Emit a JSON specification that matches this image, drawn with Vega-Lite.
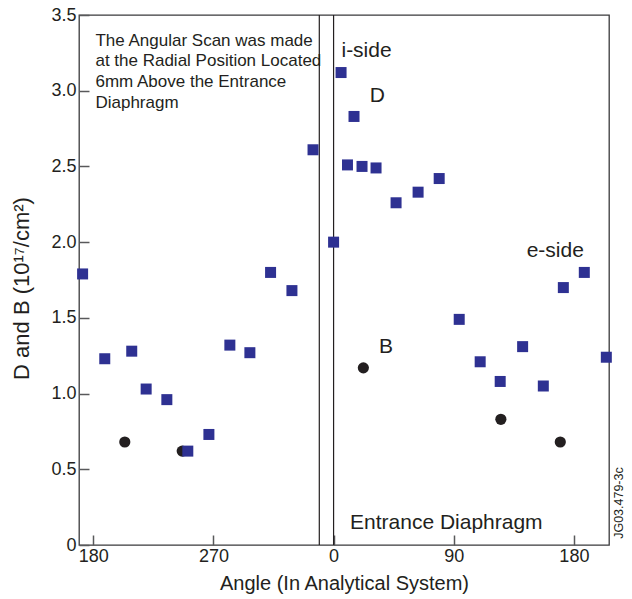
{
  "$schema": "https://vega.github.io/schema/vega-lite/v6.json",
  "width": 530,
  "height": 530,
  "autosize": {"type": "none"},
  "padding": {"left": 79, "top": 15, "right": 23, "bottom": 54},
  "background": "white",
  "config": {
    "font": "Liberation Sans",
    "view": {"stroke": "#3a3a3c", "strokeWidth": 1.3},
    "axis": {
      "grid": false,
      "domain": false,
      "ticks": true,
      "tickColor": "#58595b",
      "tickWidth": 1.5,
      "labelColor": "#231f20",
      "titleColor": "#231f20",
      "labelFont": "Liberation Sans",
      "titleFont": "Liberation Sans",
      "titleFontWeight": "normal"
    }
  },
  "datasets": {
    "D": [
      {"angle": 172.0, "value": 1.79}, {"angle": 188.6, "value": 1.23}, {"angle": 208.8, "value": 1.28},
      {"angle": 219.6, "value": 1.03}, {"angle": 235.1, "value": 0.96}, {"angle": 250.8, "value": 0.62},
      {"angle": 266.6, "value": 0.73}, {"angle": 282.3, "value": 1.32}, {"angle": 297.3, "value": 1.27},
      {"angle": 312.8, "value": 1.80}, {"angle": 328.8, "value": 1.68}, {"angle": 344.6, "value": 2.61},
      {"angle": 360.0, "value": 2.00}, {"angle": 365.6, "value": 3.12}, {"angle": 370.4, "value": 2.51},
      {"angle": 375.3, "value": 2.83}, {"angle": 381.3, "value": 2.50}, {"angle": 391.8, "value": 2.49},
      {"angle": 406.8, "value": 2.26}, {"angle": 423.3, "value": 2.33}, {"angle": 439.1, "value": 2.42},
      {"angle": 454.1, "value": 1.49}, {"angle": 469.8, "value": 1.21}, {"angle": 484.8, "value": 1.08},
      {"angle": 501.6, "value": 1.31}, {"angle": 517.1, "value": 1.05}, {"angle": 532.1, "value": 1.70},
      {"angle": 547.8, "value": 1.80}, {"angle": 564.3, "value": 1.24}
    ],
    "B": [
      {"angle": 203.6, "value": 0.68}, {"angle": 246.6, "value": 0.62}, {"angle": 382.3, "value": 1.17},
      {"angle": 485.3, "value": 0.83}, {"angle": 529.8, "value": 0.68}
    ],
    "lines": [{"angle": 349.3}, {"angle": 360}],
    "labels": [
      {"angle": 365.9, "value": 3.225, "text": "i-side"},
      {"angle": 387.1, "value": 2.928, "text": "D"},
      {"angle": 504.6, "value": 1.90, "text": "e-side"},
      {"angle": 394.1, "value": 1.27, "text": "B"},
      {"angle": 372.3, "value": 0.104, "text": "Entrance Diaphragm"}
    ],
    "note": [
      {"angle": 181.6, "value": 3.298, "text": ["The Angular Scan was made", "at the Radial Position Located", "6mm Above the Entrance", "Diaphragm"]}
    ],
    "code": [{"angle": 573.5, "value": 0.277, "text": "JG03.479-3c"}]
  },
  "layer": [
    {
      "data": {"name": "lines"},
      "mark": {"type": "rule", "color": "#231f20", "strokeWidth": 1.2},
      "encoding": {
        "x": {"field": "angle", "type": "quantitative", "scale": {"domain": [169.3, 566.3], "nice": false, "zero": false},
          "axis": {
            "values": [180, 270, 360, 450, 540],
            "labelExpr": "datum.value == 360 ? '0' : datum.value == 450 ? '90' : datum.value == 270 ? '270' : '180'",
            "offset": -10,
            "tickSize": 10,
            "labelPadding": 2,
            "labelFontSize": 18,
            "title": "Angle (In Analytical System)",
            "titleFontSize": 20,
            "titlePadding": 8
          }},
        "y": {"datum": 0, "type": "quantitative"},
        "y2": {"datum": 3.5}
      }
    },
    {
      "data": {"name": "B"},
      "mark": {"type": "point", "shape": "circle", "filled": true, "color": "#231f20", "size": 125, "opacity": 1},
      "encoding": {
        "x": {"field": "angle", "type": "quantitative"},
        "y": {"field": "value", "type": "quantitative", "scale": {"domain": [0, 3.5], "nice": false},
          "axis": {
            "values": [0, 0.5, 1, 1.5, 2, 2.5, 3, 3.5],
            "labelExpr": "datum.value == 0 ? '0' : format(datum.value, '.1f')",
            "offset": -10,
            "tickSize": 10,
            "labelPadding": 3,
            "labelFontSize": 18,
            "title": "D and B (10¹⁷/cm²)",
            "titleFontSize": 22,
            "titlePadding": 17,
            "titleY": 273
          }}
      }
    },
    {
      "data": {"name": "D"},
      "mark": {"type": "point", "shape": "square", "filled": true, "color": "#2e3192", "size": 121, "opacity": 1},
      "encoding": {
        "x": {"field": "angle", "type": "quantitative"},
        "y": {"field": "value", "type": "quantitative"}
      }
    },
    {
      "data": {"name": "labels"},
      "mark": {"type": "text", "align": "left", "baseline": "alphabetic", "fontSize": 21, "color": "#231f20"},
      "encoding": {
        "x": {"field": "angle", "type": "quantitative"},
        "y": {"field": "value", "type": "quantitative"},
        "text": {"field": "text"}
      }
    },
    {
      "data": {"name": "note"},
      "mark": {"type": "text", "align": "left", "baseline": "alphabetic", "fontSize": 17, "lineHeight": 20.8, "color": "#231f20"},
      "encoding": {
        "x": {"field": "angle", "type": "quantitative"},
        "y": {"field": "value", "type": "quantitative"},
        "text": {"field": "text"}
      }
    },
    {
      "data": {"name": "code"},
      "mark": {"type": "text", "align": "center", "baseline": "middle", "angle": 270, "fontSize": 12.5, "color": "#231f20"},
      "encoding": {
        "x": {"field": "angle", "type": "quantitative"},
        "y": {"field": "value", "type": "quantitative"},
        "text": {"field": "text"}
      }
    }
  ]
}
